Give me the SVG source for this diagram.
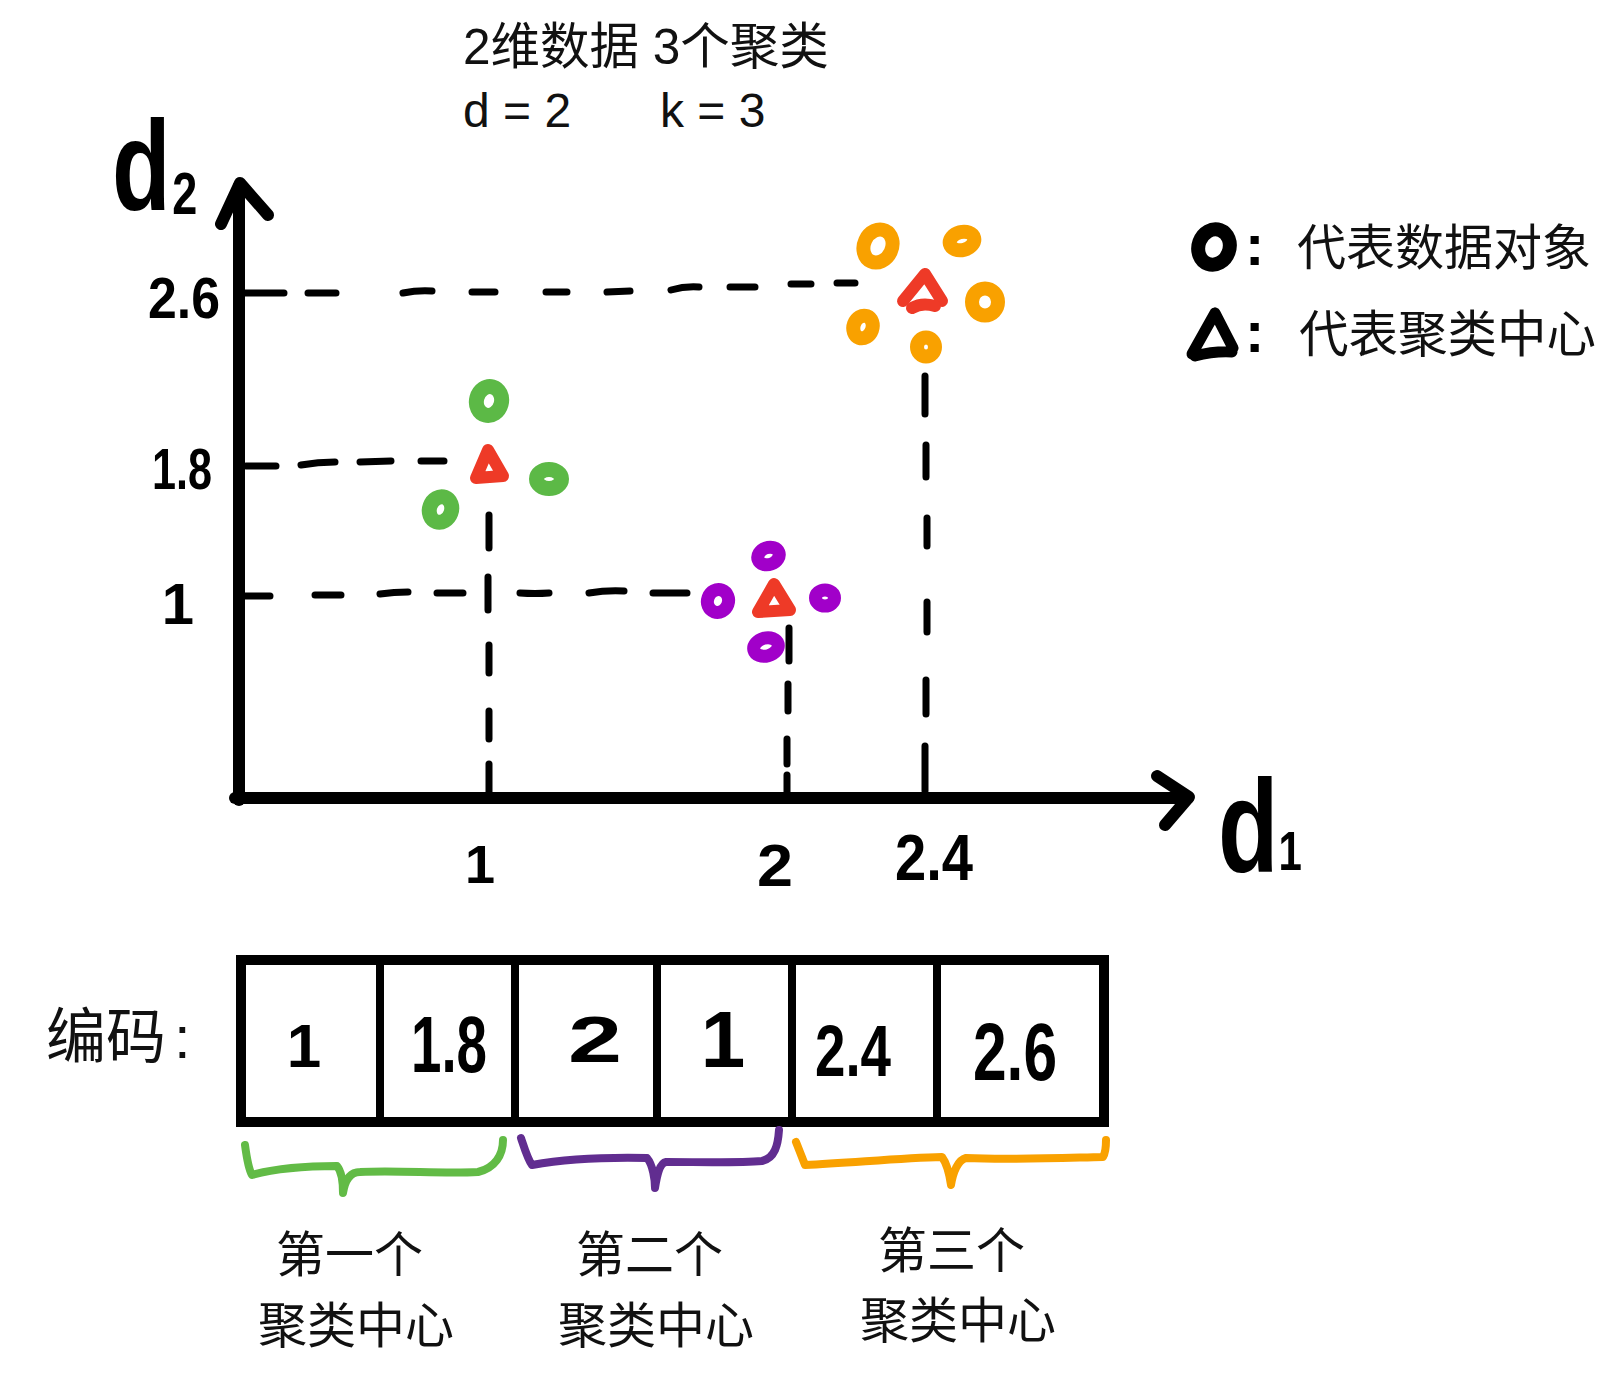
<svg xmlns="http://www.w3.org/2000/svg" width="1618" height="1383" viewBox="0 0 1618 1383">
<defs>
<style>
.cjk{font-family:"Liberation Sans","Noto Sans CJK SC",sans-serif;fill:#111}
.hw{font-family:"Liberation Sans",sans-serif;font-weight:bold;fill:#000}
.axis{stroke:#000;stroke-width:12;fill:none;stroke-linecap:round;stroke-linejoin:round}
.dash{stroke:#000;stroke-width:7;fill:none;stroke-linecap:round}
.g{stroke:#5cb946;fill:none;stroke-width:15}
.p{stroke:#a100c9;fill:none;stroke-width:13}
.o{stroke:#f9a100;fill:none;stroke-width:14}
.tri{stroke:#ee3a27;fill:none;stroke-width:12;stroke-linejoin:round;stroke-linecap:round}
.cell{stroke:#000;fill:#fff}
.brace{fill:none;stroke-width:8;stroke-linecap:round;stroke-linejoin:round}
</style>
</defs>
<rect width="1618" height="1383" fill="#fff"/>

<g id="title">
<text class="cjk" x="463" y="64" font-size="49.5">2维数据 3个聚类</text>
<text class="cjk" y="127" font-size="48"><tspan x="463">d = 2</tspan><tspan x="660">k = 3</tspan></text>
</g>

<g id="axes">
<path class="axis" d="M239,800 L239,186"/>
<path class="axis" d="M221,224 L240,183 L268,215"/>
<path class="axis" d="M235,798 L1188,798"/>
<path class="axis" d="M1157,776 L1189,797 L1165,825"/>
<text class="hw" transform="translate(112,210) scale(0.75,1)" font-size="128">d<tspan dx="2" dy="4" font-size="60">2</tspan></text>
<text class="hw" transform="translate(1218,872) scale(0.75,1)" font-size="132">d<tspan dy="-2" font-size="56">1</tspan></text>
</g>

<g id="ticks">
<text class="hw" x="148" y="318" font-size="58" textLength="72" lengthAdjust="spacingAndGlyphs">2.6</text>
<text class="hw" x="152" y="489" font-size="58" textLength="60" lengthAdjust="spacingAndGlyphs">1.8</text>
<text class="hw" x="178" y="624" font-size="58" text-anchor="middle">1</text>
<text class="hw" x="480" y="883" font-size="54" text-anchor="middle">1</text>
<text class="hw" x="757" y="886" font-size="60" textLength="36" lengthAdjust="spacingAndGlyphs">2</text>
<text class="hw" x="895" y="880" font-size="64" textLength="78" lengthAdjust="spacingAndGlyphs">2.4</text>
</g>

<g id="guides">
<path class="dash" d="M244,293 L284,293 M308,293 L336,293 M403,293 Q418,290 432,291 M472,292 L495,292 M546,292 L567,292 M607,292 L630,291 M671,290 Q685,286 699,287 M730,287 L755,287 M791,284 L811,284 M837,283 L855,283"/>
<path class="dash" d="M246,466 L276,466 M301,465 Q318,462 335,462 M360,462 L391,461 M421,461 L444,461"/>
<path class="dash" d="M244,596 L270,596 M315,595 L341,595 M380,594 Q394,592 408,592 M437,593 L463,593 M520,593 Q535,594 549,593 M589,593 Q607,590 624,591 M653,593 L687,593"/>
<path class="dash" d="M489,515 L489,548 M488,577 L488,610 M489,645 L489,673 M489,711 L489,739 M489,764 L489,793"/>
<path class="dash" d="M789,628 L789,661 M788,684 L788,711 M787,739 L787,764 M787,775 L787,793"/>
<path class="dash" d="M925,376 L925,414 M926,445 L926,477 M927,518 L927,546 M927,602 L927,632 M926,680 L926,714 M925,746 L925,791"/>
</g>

<g id="cluster1">
<ellipse class="g" cx="489" cy="401" rx="12.5" ry="14.5" transform="rotate(15 489 401)"/>
<ellipse class="g" cx="549" cy="479" rx="12.5" ry="9.5"/>
<ellipse class="g" cx="440.5" cy="509.5" rx="11" ry="13" transform="rotate(20 440.5 509.5)"/>
<path class="tri" d="M488,450 L476,478 L503,476 Z"/>
</g>

<g id="cluster2">
<ellipse class="p" cx="768.5" cy="556" rx="11" ry="8.5" transform="rotate(-20 768.5 556)"/>
<ellipse class="p" cx="718" cy="601" rx="10.5" ry="11.5" transform="rotate(20 718 601)"/>
<ellipse class="p" cx="825" cy="598" rx="9.5" ry="8"/>
<ellipse class="p" cx="766" cy="647" rx="12.5" ry="9" transform="rotate(-15 766 647)"/>
<path class="tri" d="M774,584 L758,612 L790,610 Z"/>
</g>

<g id="cluster3">
<ellipse class="o" cx="878" cy="246" rx="14" ry="17" transform="rotate(25 878 246)"/>
<ellipse class="o" cx="962" cy="241" rx="12.5" ry="9" transform="rotate(-15 962 241)"/>
<ellipse class="o" cx="985" cy="302" rx="13" ry="13.5"/>
<ellipse class="o" cx="863" cy="327" rx="9.5" ry="11.5" transform="rotate(20 863 327)"/>
<ellipse class="o" cx="926" cy="347" rx="9" ry="9.5"/>
<path class="tri" d="M903,301 L925,274 L942,301"/>
<path class="tri" d="M912,308 Q922,302 935,306"/>
</g>

<g id="legend">
<ellipse cx="1214" cy="247" rx="15.5" ry="18" fill="none" stroke="#000" stroke-width="14" transform="rotate(20 1214 247)"/>
<text class="hw" x="1245" y="265" font-size="58">:</text>
<text class="cjk" x="1297" y="265" font-size="49">代表数据对象</text>
<path d="M1215,313 L1192,354 M1215,313 L1233,348 M1195,356 Q1214,351 1232,352" fill="none" stroke="#000" stroke-width="11" stroke-linecap="round"/>
<text class="hw" x="1245" y="352" font-size="58">:</text>
<text class="cjk" x="1299" y="352" font-size="49.5">代表聚类中心</text>
</g>

<g id="encoding">
<text class="cjk" x="46" y="1058" font-size="60">编码<tspan dx="8">:</tspan></text>
<rect class="cell" x="241" y="960" width="863" height="162" stroke-width="10"/>
<path d="M380,960 L380,1122 M515,960 L515,1122 M657,960 L657,1122 M792,960 L792,1122 M937,960 L937,1122" stroke="#000" stroke-width="8"/>
<text class="hw" x="304" y="1067" font-size="62" text-anchor="middle">1</text>
<text class="hw" x="411" y="1072" font-size="80" textLength="76" lengthAdjust="spacingAndGlyphs">1.8</text>
<text class="hw" x="568" y="1062" font-size="64" textLength="54" lengthAdjust="spacingAndGlyphs">2</text>
<text class="hw" x="723" y="1067" font-size="80" text-anchor="middle">1</text>
<text class="hw" x="815" y="1076" font-size="72" textLength="76" lengthAdjust="spacingAndGlyphs">2.4</text>
<text class="hw" x="973" y="1080" font-size="82" textLength="84" lengthAdjust="spacingAndGlyphs">2.6</text>
</g>

<g id="braces">
<path class="brace" stroke="#62bb46" d="M245,1145 C247,1160 249,1170 252,1175 C270,1170 300,1166 337,1166 C342,1172 343,1185 343,1193 C345,1180 350,1172 360,1172 C400,1170 440,1174 478,1172 C495,1168 503,1155 503,1140"/>
<path class="brace" stroke="#612d90" d="M521,1138 C525,1150 528,1160 532,1165 C560,1160 600,1157 647,1158 C653,1165 655,1180 655,1188 C657,1175 660,1163 666,1162 C700,1162 740,1163 762,1161 C775,1158 778,1145 779,1130"/>
<path class="brace" stroke="#f9a100" d="M796,1142 C800,1152 803,1160 805,1165 C850,1163 900,1158 942,1157 C948,1165 950,1178 951,1185 C953,1172 958,1160 966,1158 C1010,1160 1060,1158 1103,1157 C1106,1152 1106,1146 1106,1140"/>
</g>

<g id="labels">
<text class="cjk" x="276" y="1272" font-size="49">第一个</text>
<text class="cjk" x="258" y="1343" font-size="49">聚类中心</text>
<text class="cjk" x="576" y="1272" font-size="49">第二个</text>
<text class="cjk" x="558" y="1343" font-size="49">聚类中心</text>
<text class="cjk" x="878" y="1268" font-size="49">第三个</text>
<text class="cjk" x="860" y="1338" font-size="49">聚类中心</text>
</g>
</svg>
